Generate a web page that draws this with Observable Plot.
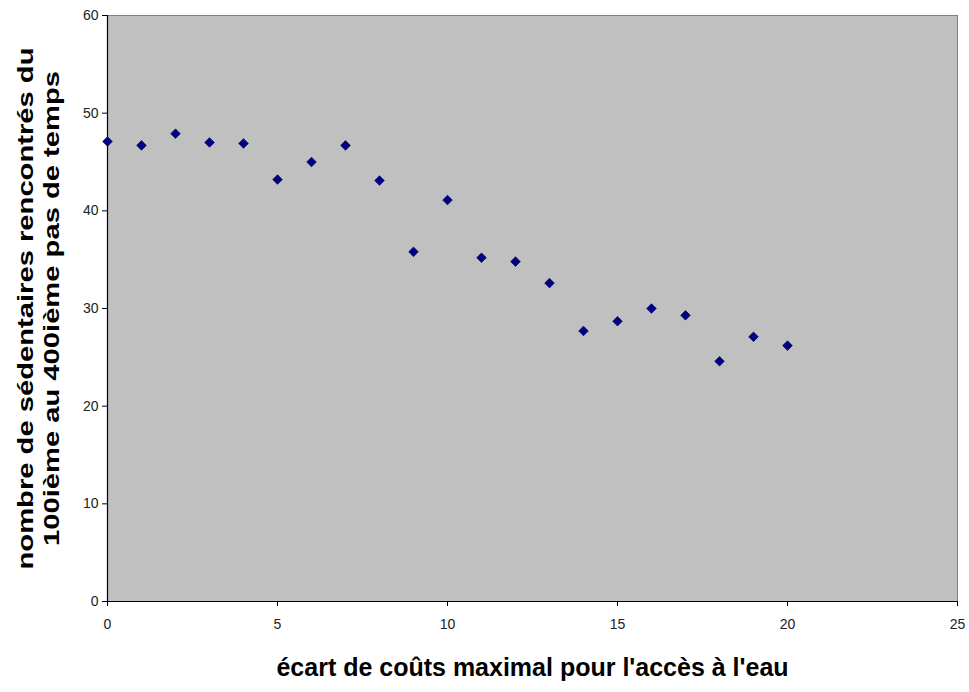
<!DOCTYPE html>
<html>
<head>
<meta charset="utf-8">
<script src="https://cdn.jsdelivr.net/npm/d3@7"></script>
<script src="https://cdn.jsdelivr.net/npm/@observablehq/plot@0.6"></script>
<style>
  html, body { margin: 0; padding: 0; background: #fff; }
  svg { display: block; }
</style>
</head>
<body>
<div id="chart"></div>
<script>
const ecart = [0, 1, 2, 3, 4, 5, 6, 7, 8, 9, 10, 11, 12, 13, 14, 15, 16, 17, 18, 19, 20];
const sedentaires = [47.1, 46.7, 47.9, 47.0, 46.9, 43.2, 45.0, 46.7, 43.1, 35.8, 41.1, 35.2, 34.8, 32.6, 27.7, 28.7, 30.0, 29.3, 24.6, 27.1, 26.2];
const xTicks = [0, 5, 10, 15, 20, 25];
const yTicks = [0, 10, 20, 30, 40, 50, 60];
const xTitle = "écart de coûts maximal pour l'accès à l'eau";
const yTitle1 = "nombre de sédentaires rencontrés du";
const yTitle2 = "100ième au 400ième pas de temps";

const data = ecart.map((x, i) => ({x, y: sedentaires[i]}));

const chart = Plot.plot({
  width: 969,
  height: 692,
  marginLeft: 107,
  marginRight: 12,
  marginTop: 15,
  marginBottom: 91,
  style: {fontFamily: "Liberation Sans, Arial, sans-serif", fontSize: "14px", color: "#222", background: "#fff"},
  x: {domain: [0, 25], ticks: xTicks, label: null},
  y: {domain: [0, 60], ticks: yTicks, label: null},
  marks: [
    Plot.frame({fill: "#c0c0c0", stroke: "#808080", strokeWidth: 1}),
    Plot.ruleX([0], {stroke: "#000", strokeWidth: 1.2}),
    Plot.ruleY([0], {stroke: "#000", strokeWidth: 1.2}),
    Plot.axisX({ticks: xTicks, tickSize: 5, tickPadding: 13, stroke: "#000", fontSize: 14, fill: "#222", label: null}),
    Plot.axisY({ticks: yTicks, tickSize: 5, tickPadding: 4, stroke: "#000", fontSize: 14, fill: "#222", label: null}),
    Plot.dot(data, {x: "x", y: "y", symbol: "diamond2", r: 4.3, fill: "#000080", stroke: "#000080", strokeWidth: 0.8}),
    Plot.text([yTitle1], {className: "ytitle1", frameAnchor: "left", dx: -82, rotate: -90, textAnchor: "middle", text: d => d, fontSize: 22, fontWeight: "bold", fill: "#000"}),
    Plot.text([yTitle2], {className: "ytitle2", frameAnchor: "left", dx: -56, rotate: -90, textAnchor: "middle", text: d => d, fontSize: 22, fontWeight: "bold", fill: "#000"}),
    Plot.text([xTitle], {frameAnchor: "bottom", dy: 74, text: d => d, fontSize: 25, fontWeight: "bold", fill: "#000"})
  ]
});

d3.select(chart).selectAll(".ytitle1 text").attr("textLength", 522).attr("lengthAdjust", "spacingAndGlyphs");
d3.select(chart).selectAll(".ytitle2 text").attr("textLength", 475).attr("lengthAdjust", "spacingAndGlyphs");

document.getElementById("chart").appendChild(chart);
</script>
</body>
</html>
